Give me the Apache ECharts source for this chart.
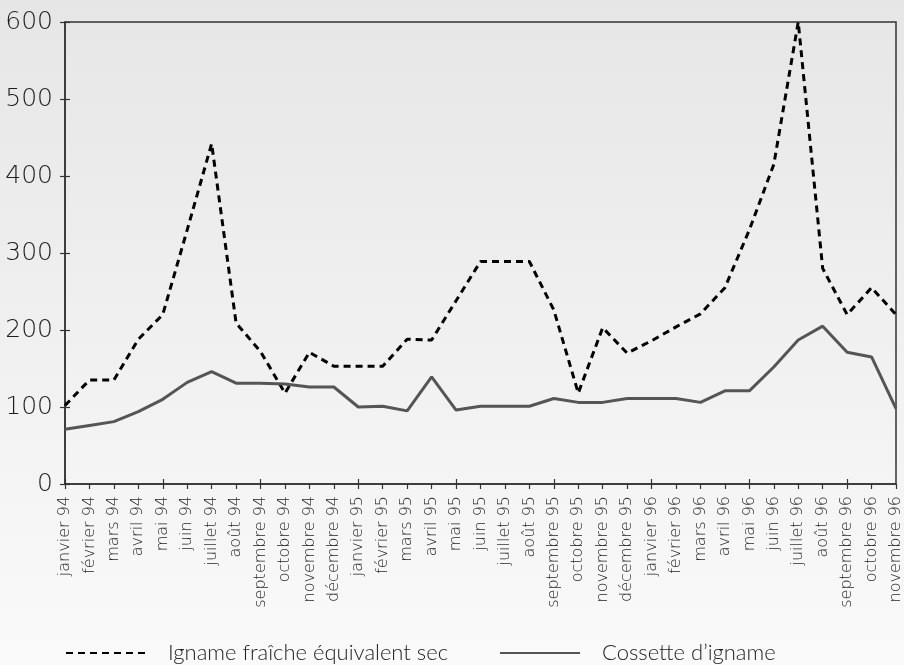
<!DOCTYPE html>
<html>
<head>
<meta charset="utf-8">
<script src="https://cdn.jsdelivr.net/npm/echarts@6/dist/echarts.min.js"></script>
<style>
html,body{margin:0;padding:0;background:#f0f0f0;}
#chart{width:904px;height:665px;}
</style>
</head>
<body>
<div id="chart"></div>
<script>
const months = ['janvier 94','février 94','mars 94','avril 94','mai 94','juin 94','juillet 94','août 94','septembre 94','octobre 94','novembre 94','décembre 94',
'janvier 95','février 95','mars 95','avril 95','mai 95','juin 95','juillet 95','août 95','septembre 95','octobre 95','novembre 95','décembre 95',
'janvier 96','février 96','mars 96','avril 96','mai 96','juin 96','juillet 96','août 96','septembre 96','octobre 96','novembre 96'];
const ignameFraiche = [102,135,135,188,220,330,442,209,172,118,171,153,153,153,188,187,238,289,289,289,226,118,203,170,186,204,221,255,330,415,600,280,220,255,220];
const cossette = [71,76,81,94,110,132,146,131,131,130,126,126,100,101,95,139,96,101,101,101,111,106,106,111,111,111,106,121,121,152,187,205,171,165,98];
const seriesNames = ['Igname fraîche équivalent sec','Cossette d\u2019igname'];
const yMin = 0, yMax = 600, yStep = 100;

const AXFONT = 'DejaVu Sans';
const LGFONT = 'Lato';
const TXT = '#1e1e1e';
const chart = echarts.init(document.getElementById('chart'));
chart.setOption({
  backgroundColor: {type:'linear',x:0,y:0,x2:0,y2:1,colorStops:[{offset:0,color:'#e6e6e6'},{offset:1,color:'#fafafa'}]},
  animation:false,
  grid:{left:65,right:2,top:22,bottom:181,containLabel:false,show:true,borderColor:'#333',borderWidth:1.5,backgroundColor:'transparent'},
  legend:{
    top:642,left:65,padding:0,itemWidth:80,itemHeight:20,itemGap:51,
    itemStyle:{opacity:0},
    textStyle:{fontFamily:LGFONT,fontWeight:300,fontSize:22,color:TXT,padding:[0,0,0,17]},
    data:seriesNames
  },
  xAxis:[{
    type:'category',data:months,boundaryGap:false,position:'bottom',
    axisLine:{lineStyle:{color:'#333',width:1.5}},
    axisTick:{show:true,inside:false,length:5,lineStyle:{color:'#333',width:1.2}},
    axisLabel:{rotate:90,margin:12,interval:0,fontFamily:AXFONT,fontWeight:200,fontSize:16,color:TXT},
    splitLine:{show:false}
  },{
    type:'category',data:months,boundaryGap:false,position:'bottom',
    axisLine:{show:false},
    axisTick:{show:true,inside:true,length:5,lineStyle:{color:'#333',width:1.2}},
    axisLabel:{show:false},splitLine:{show:false}
  }],
  yAxis:[{
    type:'value',min:yMin,max:yMax,interval:yStep,position:'left',
    axisLine:{show:true,lineStyle:{color:'#333',width:1.5}},
    axisTick:{show:true,inside:false,length:5,lineStyle:{color:'#333',width:1.2}},
    axisLabel:{margin:12,fontFamily:AXFONT,fontWeight:200,fontSize:25,color:TXT},
    splitLine:{show:false}
  },{
    type:'value',min:yMin,max:yMax,interval:yStep,position:'left',
    axisLine:{show:false},
    axisTick:{show:true,inside:true,length:5,lineStyle:{color:'#333',width:1.2}},
    axisLabel:{show:false},splitLine:{show:false}
  }],
  series:[{
    name:seriesNames[0],type:'line',data:ignameFraiche,symbol:'none',
    lineStyle:{color:'#000',width:3,type:[7,5]},itemStyle:{color:'#000'}
  },{
    name:seriesNames[1],type:'line',data:cossette,symbol:'none',
    lineStyle:{color:'#555',width:3},itemStyle:{color:'#555'}
  }]
});
</script>
</body>
</html>
